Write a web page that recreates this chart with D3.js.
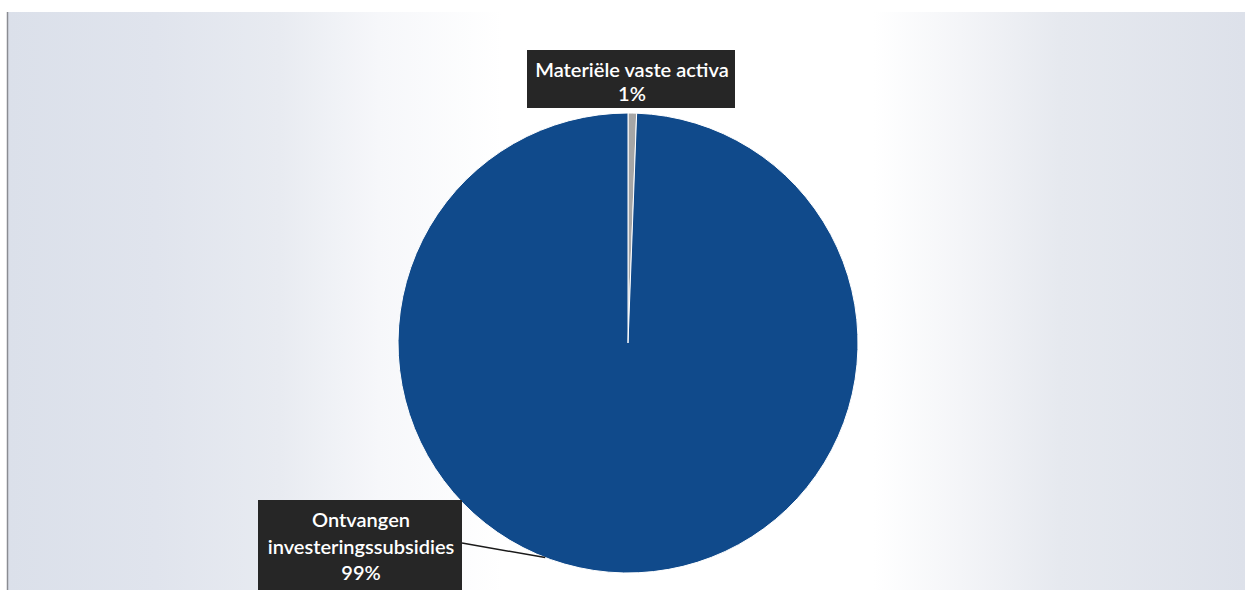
<!DOCTYPE html>
<html>
<head>
<meta charset="utf-8">
<script src="https://cdn.jsdelivr.net/npm/d3@7"></script>
<style>
  html, body { margin: 0; padding: 0; background: #ffffff; }
  svg { display: block; }
</style>
</head>
<body>
<svg id="chart" width="1245" height="590"></svg>
<script>
// ---- data ----
const categories = ["Materiële vaste activa", "Ontvangen investeringssubsidies"];
const values = [0.6, 99.4];
const colors = ["#a6a6a6", "#104a8b"];
const labelLines = [["Materiële vaste activa"], ["Ontvangen", "investeringssubsidies"]];

// ---- layout ----
const W = 1245, H = 590;
const cx = 628, cy = 343, R = 230;
const svg = d3.select("#chart");

// background (scanned chart area)
const defs = svg.append("defs");
const grad = defs.append("linearGradient").attr("id", "bg").attr("x1", "0").attr("x2", "1").attr("y1", "0").attr("y2", "0");
[[0, "#dbe0ea"], [0.12, "#e0e4ed"], [0.22, "#e8ebf1"], [0.3, "#f6f7fa"], [0.4, "#ffffff"], [0.7, "#ffffff"], [0.77, "#f4f5f8"], [0.85, "#e6e9ef"], [1, "#dde1ea"]]
  .forEach(([o, c]) => grad.append("stop").attr("offset", o).attr("stop-color", c));
svg.append("rect").attr("x", 7).attr("y", 12).attr("width", W - 7).attr("height", H - 12).attr("fill", "url(#bg)");
svg.append("line").attr("x1", 7.5).attr("x2", 7.5).attr("y1", 12).attr("y2", H).attr("stroke", "#8a8c92").attr("stroke-width", 1.5);

const g = svg.append("g").attr("transform", `translate(${cx},${cy})`);
const pie = d3.pie().sort(null).value(d => d)(values);
const arc = d3.arc().innerRadius(0).outerRadius(R);

g.selectAll("path.slice").data(pie).enter().append("path")
  .attr("class", "slice")
  .attr("d", arc)
  .attr("fill", (d, i) => colors[i])
  .attr("stroke", "#ffffff")
  .attr("stroke-width", 1);

// ---- labels ----
const fmt = d3.format(".0f");
const fontFamily = "Lato, 'Open Sans', sans-serif";
const fontSize = 20;

const box1 = { x: 527, y: 50, w: 208, h: 58, lh: 24 };
const box2 = { x: 258, y: 500, w: 204, h: 95, lh: 26.5 };
const boxes = [box1, box2];

boxes.forEach((b, i) => {
  svg.append("rect").attr("x", b.x).attr("y", b.y).attr("width", b.w).attr("height", b.h).attr("fill", "#262626");
  const lines = labelLines[i].concat([fmt(values[i]) + "%"]);
  const t = svg.append("text")
    .attr("text-anchor", "middle")
    .attr("fill", "#ffffff")
    .attr("font-family", fontFamily)
    .attr("font-size", fontSize)
    .attr("font-weight", 600);
  lines.forEach((ln, k) => {
    t.append("tspan").attr("x", b.x + b.w / 2 + 1).attr("y", b.y + 27 + k * b.lh).text(ln);
  });
});

// leader line for label 2
const leaderAngle = Math.PI + 0.368;
const ex = cx + R * Math.sin(leaderAngle), ey = cy - R * Math.cos(leaderAngle);
svg.append("line")
  .attr("x1", box2.x + box2.w).attr("y1", 543)
  .attr("x2", ex).attr("y2", ey)
  .attr("stroke", "#1a1a1a").attr("stroke-width", 1.5);
</script>
</body>
</html>
